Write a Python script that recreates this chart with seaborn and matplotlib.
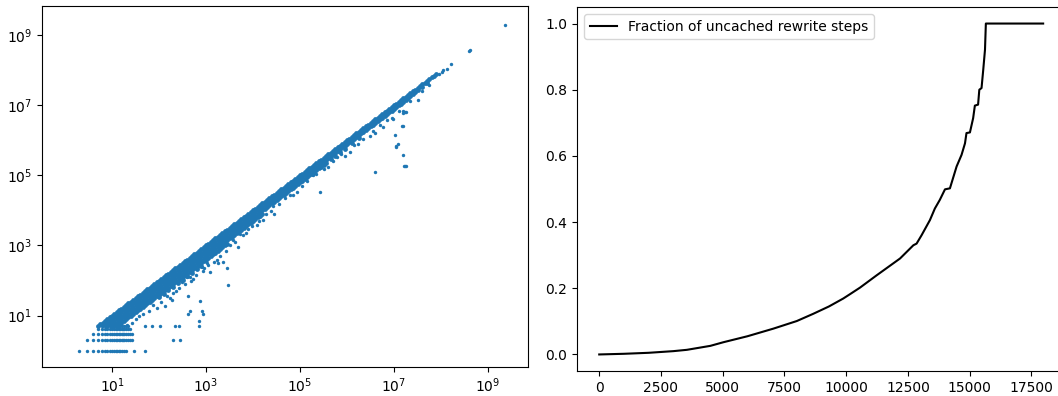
import pandas as pd
import numpy as np
import matplotlib
matplotlib.use('Agg')
import matplotlib.pyplot as plt
import matplotlib.ticker as mticker
import seaborn as sns

# Left panel: small integer counts in the bottom-left corner (y value -> x values)
row_y1 = [2, 3, 4, 5, 6, 7, 8, 9, 10, 11, 12, 13, 14, 15, 16, 18, 20, 30, 50]
row_y2 = [3, 4, 5, 6, 7, 8, 9, 10, 11, 12, 13, 14, 15, 16, 17, 18, 20, 22, 24, 26, 200, 280]
row_y3 = [4, 5, 6, 7, 8, 9, 10, 11, 12, 13, 14, 15, 16, 17, 18, 20, 22, 24, 26]
row_y4 = [5, 6, 7, 8, 9, 10, 11, 12, 13, 14, 15, 16, 17, 18, 20, 22, 24]
row_y5 = [6, 7, 8, 9, 10, 11, 12, 13, 14, 15, 16, 18, 20, 22, 50, 70, 105, 220, 260, 700]

# Dense diagonal band, read column by column as (log10 x, [log10 y, ...])
band_low = [
    (0.70, [0.70]), (0.75, [0.75]), (0.80, [0.80, 0.72]), (0.85, [0.85, 0.76]),
    (0.90, [0.90, 0.80, 0.70]), (0.95, [0.95, 0.85, 0.75]),
    (1.00, [1.00, 0.90, 0.80, 0.70]), (1.05, [1.05, 0.95, 0.85, 0.75]),
    (1.10, [1.10, 1.00, 0.90, 0.80, 0.70]), (1.15, [1.15, 1.05, 0.95, 0.85, 0.75]),
    (1.20, [1.20, 1.10, 1.00, 0.90, 0.80]), (1.25, [1.25, 1.15, 1.05, 0.95, 0.85]),
    (1.30, [1.30, 1.20, 1.10, 1.00, 0.90]), (1.35, [1.35, 1.25, 1.15, 1.05, 0.95]),
    (1.40, [1.40, 1.30, 1.20, 1.10, 1.00]), (1.45, [1.45, 1.35, 1.25, 1.15, 1.05]),
    (1.50, [1.50, 1.40, 1.30, 1.20, 1.10]), (1.55, [1.55, 1.45, 1.35, 1.25, 1.15]),
    (1.60, [1.60, 1.50, 1.40, 1.30, 1.20]), (1.65, [1.65, 1.55, 1.45, 1.35, 1.25]),
    (1.70, [1.70, 1.60, 1.50, 1.40, 1.30]), (1.75, [1.75, 1.65, 1.55, 1.45, 1.35]),
    (1.80, [1.80, 1.70, 1.60, 1.50, 1.40]), (1.85, [1.85, 1.75, 1.65, 1.55, 1.45]),
    (1.90, [1.90, 1.80, 1.70, 1.60, 1.50]), (1.95, [1.95, 1.85, 1.75, 1.65, 1.55]),
    (2.00, [2.00, 1.90, 1.80, 1.70, 1.60, 1.52]), (2.05, [2.05, 1.95, 1.85, 1.75, 1.65]),
    (2.10, [2.10, 2.00, 1.90, 1.80, 1.70, 1.62]), (2.15, [2.15, 2.05, 1.95, 1.85, 1.75]),
    (2.20, [2.20, 2.10, 2.00, 1.90, 1.80, 1.72]), (2.25, [2.25, 2.15, 2.05, 1.95, 1.85]),
    (2.30, [2.30, 2.20, 2.10, 2.00, 1.90, 1.82]), (2.35, [2.35, 2.25, 2.15, 2.05, 1.95]),
    (2.40, [2.40, 2.30, 2.20, 2.10, 2.00, 1.92]), (2.45, [2.45, 2.35, 2.25, 2.15, 2.05]),
    (2.50, [2.50, 2.40, 2.30, 2.20, 2.10, 2.02]), (2.55, [2.55, 2.45, 2.35, 2.25, 2.15]),
    (2.60, [2.60, 2.50, 2.40, 2.30, 2.20, 2.12]), (2.65, [2.65, 2.55, 2.45, 2.35, 2.25]),
    (2.70, [2.70, 2.60, 2.50, 2.40, 2.30, 2.22]), (2.75, [2.75, 2.65, 2.55, 2.45, 2.35]),
    (2.80, [2.80, 2.70, 2.60, 2.50, 2.40, 2.32]), (2.85, [2.85, 2.75, 2.65, 2.55, 2.45]),
    (2.90, [2.90, 2.80, 2.70, 2.60, 2.50, 2.42]), (2.95, [2.95, 2.85, 2.75, 2.65, 2.55]),
]
band_mid = [
    (3.00, [3.00, 2.90, 2.80, 2.70, 2.60]), (3.05, [3.05, 2.95, 2.85, 2.75, 2.65]),
    (3.10, [3.10, 3.00, 2.90, 2.80, 2.70]), (3.15, [3.15, 3.05, 2.95, 2.85, 2.75]),
    (3.20, [3.20, 3.10, 3.00, 2.90, 2.80]), (3.25, [3.25, 3.15, 3.05, 2.95, 2.85]),
    (3.30, [3.30, 3.20, 3.10, 3.00, 2.90]), (3.35, [3.35, 3.25, 3.15, 3.05, 2.95]),
    (3.40, [3.40, 3.30, 3.20, 3.10, 3.00]), (3.45, [3.45, 3.35, 3.25, 3.15, 3.05]),
    (3.50, [3.50, 3.40, 3.30, 3.20]), (3.55, [3.55, 3.45, 3.35, 3.25]),
    (3.60, [3.60, 3.50, 3.40, 3.30]), (3.65, [3.65, 3.55, 3.45, 3.35]),
    (3.70, [3.70, 3.60, 3.50, 3.40]), (3.75, [3.75, 3.65, 3.55, 3.45]),
    (3.80, [3.80, 3.70, 3.60, 3.50]), (3.85, [3.85, 3.75, 3.65, 3.55]),
    (3.90, [3.90, 3.80, 3.70, 3.60]), (3.95, [3.95, 3.85, 3.75, 3.65]),
    (4.00, [4.00, 3.90, 3.80, 3.70]), (4.05, [4.05, 3.95, 3.85, 3.75]),
    (4.10, [4.10, 4.00, 3.90, 3.80]), (4.15, [4.15, 4.05, 3.95, 3.85]),
    (4.20, [4.20, 4.10, 4.00, 3.90]), (4.25, [4.25, 4.15, 4.05]),
    (4.30, [4.30, 4.20, 4.10]), (4.35, [4.35, 4.25, 4.15]),
    (4.40, [4.40, 4.30, 4.20]), (4.45, [4.45, 4.35, 4.25]),
    (4.50, [4.50, 4.40, 4.30]), (4.55, [4.55, 4.45, 4.35]),
    (4.60, [4.60, 4.50, 4.40]), (4.65, [4.65, 4.55, 4.45]),
    (4.70, [4.70, 4.60, 4.50]), (4.75, [4.75, 4.65, 4.55]),
    (4.80, [4.80, 4.70, 4.60]), (4.85, [4.85, 4.75, 4.65]),
    (4.90, [4.90, 4.80, 4.70]), (4.95, [4.95, 4.85, 4.75]),
    (5.00, [5.00, 4.90, 4.80]), (5.05, [5.05, 4.95, 4.85]),
    (5.10, [5.10, 5.00, 4.90]), (5.15, [5.15, 5.05, 4.95]),
    (5.20, [5.20, 5.10, 5.00]), (5.25, [5.25, 5.15, 5.05]),
    (5.30, [5.30, 5.20, 5.10]), (5.35, [5.35, 5.25, 5.15]),
    (5.40, [5.40, 5.30, 5.20]), (5.45, [5.45, 5.35, 5.25]),
    (5.50, [5.50, 5.40, 5.30]),
]
band_high = [
    (5.55, [5.55, 5.45, 5.37]), (5.60, [5.60, 5.50]), (5.65, [5.65, 5.55, 5.47]),
    (5.70, [5.70, 5.60]), (5.75, [5.75, 5.65, 5.57]), (5.80, [5.80, 5.70]),
    (5.85, [5.85, 5.75, 5.67]), (5.90, [5.90, 5.80]), (5.95, [5.95, 5.85, 5.77]),
    (6.00, [6.00, 5.90]), (6.05, [6.05, 5.95]), (6.10, [6.10, 6.00, 5.93]),
    (6.15, [6.15, 6.05]), (6.20, [6.20, 6.10]), (6.25, [6.25, 6.15, 6.08]),
    (6.30, [6.30, 6.20]), (6.35, [6.35, 6.25]), (6.40, [6.40, 6.30]),
    (6.45, [6.45, 6.35]), (6.50, [6.50, 6.40]), (6.55, [6.55, 6.45]),
    (6.60, [6.60, 6.50]), (6.65, [6.65, 6.55]), (6.70, [6.70, 6.60]),
    (6.75, [6.75, 6.65]), (6.80, [6.80, 6.70]), (6.85, [6.85, 6.75]),
    (6.90, [6.90, 6.80]), (6.95, [6.95, 6.85]), (7.00, [7.00, 6.90]),
    (7.05, [7.05, 6.95]), (7.10, [7.10, 7.00]), (7.15, [7.15, 7.05]),
    (7.20, [7.20, 7.10]), (7.25, [7.25, 7.15]), (7.30, [7.30, 7.21]),
    (7.35, [7.35, 7.26]), (7.40, [7.40, 7.32]), (7.45, [7.45, 7.37]),
    (7.50, [7.50, 7.44]), (7.55, [7.55]), (7.60, [7.60, 7.54]), (7.65, [7.65]),
    (7.70, [7.70, 7.65]), (7.75, [7.75]), (7.80, [7.80]), (7.85, [7.85]), (7.90, [7.90]),
]

# Ragged lower edge of the band (log10 x, log10 y)
edge_lx = [1.32, 1.42, 1.52, 1.58, 1.66, 1.78, 1.88, 2.04, 2.18, 2.24, 2.36, 2.42,
           2.55, 2.72, 2.78, 2.96, 3.05, 3.16, 3.30, 3.42, 3.52, 3.62, 3.78, 3.85,
           3.98, 4.12, 4.28, 4.38, 4.55, 4.68, 4.78, 5.05, 5.15, 5.35, 5.50, 5.70,
           5.88, 6.15, 6.35, 6.55, 6.70, 6.85, 7.10, 7.35, 7.60, 7.75]
edge_ly = [0.72, 0.80, 0.90, 0.98, 1.04, 1.12, 1.30, 1.40, 1.55, 1.50, 1.70, 1.78,
           1.90, 2.05, 2.15, 2.35, 2.45, 2.52, 2.70, 2.85, 3.00, 3.10, 3.30, 3.35,
           3.55, 3.70, 3.90, 3.98, 4.18, 4.35, 4.45, 4.70, 4.85, 5.05, 5.18, 5.40,
           5.60, 5.88, 6.05, 6.28, 6.45, 6.58, 6.85, 7.12, 7.40, 7.58]

# Scattered points off the band (log10 x, log10 y)
sparse_lx = [1.70, 1.74, 1.95, 2.13, 2.27, 2.30, 2.48, 2.59, 2.62, 2.62, 2.66, 2.66,
             2.69, 2.85, 2.87, 2.91, 2.91, 2.94, 2.94, 3.01, 3.09, 3.23, 3.26, 3.37,
             3.44, 3.47, 3.58, 3.69, 3.72, 3.90, 4.08, 4.22, 4.42, 4.45, 4.85, 4.93,
             5.28, 5.43, 5.60, 5.78, 5.96, 6.06, 6.24, 6.49, 6.60, 6.60, 6.76, 6.95,
             6.98, 7.02, 7.04, 7.05, 7.09, 7.17, 7.18, 7.18, 7.20, 7.20, 7.21, 7.23,
             7.24, 7.26, 7.26, 7.52, 7.95, 8.01, 8.05, 8.12, 8.21, 8.60, 8.62, 9.36]
sparse_ly = [1.36, 1.36, 1.22, 1.26, 1.45, 1.64, 1.97, 2.11, 1.55, 1.03, 1.12, 2.10,
             1.99, 0.85, 1.41, 1.12, 2.40, 1.03, 2.26, 2.49, 2.23, 2.59, 2.49, 2.54,
             2.35, 1.88, 3.15, 2.95, 3.34, 3.46, 3.58, 3.72, 4.12, 3.89, 4.43, 4.52,
             5.00, 4.52, 5.23, 5.52, 5.56, 5.66, 5.89, 6.13, 6.22, 5.10, 6.38, 6.63,
             6.61, 6.16, 5.84, 5.80, 5.90, 6.42, 6.78, 5.58, 6.85, 6.40, 5.26, 6.81,
             5.26, 6.80, 5.26, 7.15, 7.90, 7.95, 8.00, 8.03, 8.19, 8.56, 8.57, 9.31]

# Right panel: fraction of uncached rewrite steps
steps = [0, 1000, 2000, 3000, 3550, 4500, 5030, 6000, 7050, 8000, 8670, 9300,
         9880, 10150, 10560, 11230, 12180, 12720, 12850, 13050, 13390, 13590,
         13790, 14000, 14200, 14470, 14670, 14810, 14870, 15010, 15140, 15210,
         15340, 15390, 15480, 15550, 15620, 15655, 17975]
uncached_frac = [0.0, 0.002, 0.005, 0.010, 0.014, 0.026, 0.037, 0.055, 0.078, 0.101,
                 0.123, 0.145, 0.169, 0.182, 0.202, 0.239, 0.290, 0.330, 0.335, 0.360,
                 0.406, 0.441, 0.467, 0.499, 0.502, 0.568, 0.603, 0.638, 0.669, 0.671,
                 0.714, 0.752, 0.755, 0.800, 0.805, 0.861, 0.921, 1.0, 1.0]

log_ticks = [1e1, 1e3, 1e5, 1e7, 1e9]
dot_color = '#1f77b4'

# Build the scatter tables: the dense band and the single points around it
band_pts = []
for lx, lys in band_low + band_mid + band_high:
    for ly in lys:
        band_pts.append((10 ** lx, 10 ** ly))
band_df = pd.DataFrame(band_pts, columns=['total', 'uncached'])

other_pts = []
for y, xs in [(1, row_y1), (2, row_y2), (3, row_y3), (4, row_y4), (5, row_y5)]:
    for x in xs:
        other_pts.append((x, y))
for lx, ly in zip(edge_lx + sparse_lx, edge_ly + sparse_ly):
    other_pts.append((10 ** lx, 10 ** ly))
other_df = pd.DataFrame(other_pts, columns=['total', 'uncached'])

fig = plt.figure(figsize=(10.58, 3.96), dpi=100)
ax1 = fig.add_axes([42 / 1058, 29 / 396, 486 / 1058, 361 / 396])
ax2 = fig.add_axes([577 / 1058, 25 / 396, 489 / 1058, 364 / 396])

# band points overlap in the original, so they get a bigger marker to read as solid
sns.scatterplot(data=band_df, x='total', y='uncached', s=12, linewidth=0,
                color=dot_color, ax=ax1)
sns.scatterplot(data=other_df, x='total', y='uncached', s=6, linewidth=0,
                color=dot_color, ax=ax1)
ax1.set_xscale('log')
ax1.set_yscale('log')
ax1.set_xlim(10 ** -0.49, 10 ** 9.85)
ax1.set_ylim(10 ** -0.47, 10 ** 9.84)
for axis in (ax1.xaxis, ax1.yaxis):
    axis.set_major_locator(mticker.FixedLocator(log_ticks))
    axis.set_minor_locator(mticker.NullLocator())
ax1.set_xlabel('')
ax1.set_ylabel('')

sns.lineplot(x=steps, y=uncached_frac, color='black', linewidth=1.5,
             sort=False, estimator=None, label='Fraction of uncached rewrite steps', ax=ax2)
ax2.set_xlim(-900, 18900)
ax2.set_ylim(-0.05, 1.05)
ax2.spines['right'].set_visible(False)
ax2.legend(loc='upper left')
ax2.set_xlabel('')
ax2.set_ylabel('')

fig.savefig('out.png', dpi=100)
